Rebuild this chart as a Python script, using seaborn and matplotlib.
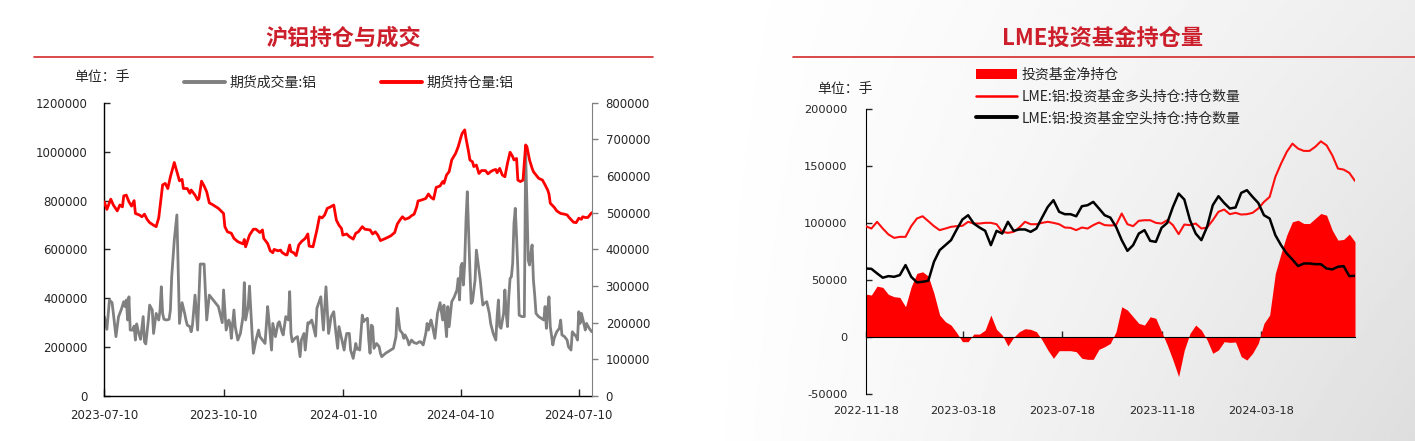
import numpy as np
import pandas as pd
import matplotlib
matplotlib.use("Agg")
import matplotlib.pyplot as plt
import matplotlib.dates as mdates
from matplotlib.lines import Line2D
from matplotlib.patches import Patch
from matplotlib.ticker import StrMethodFormatter
import seaborn as sns

# ---------- left chart: SHFE aluminium, daily (days after 2023-07-10, values in 1000 lots) ----------
left_start = "2023-07-10"

oi_days = [0, 2, 5, 7, 10, 12, 14, 15, 17, 19, 21, 23, 24, 27, 29, 31, 33, 35, 38, 40,
           42, 45, 47, 49, 51, 54, 56, 58, 60, 61, 64, 66, 67, 70, 72, 73, 75, 77, 79, 81,
           84, 88, 92,
           93, 95, 98, 100, 103, 107, 108, 109, 112, 115, 117, 120, 122, 123, 126, 128, 130, 131, 134, 136,
           137, 140, 141, 143, 144, 146, 148, 150, 152, 155, 157, 158, 161, 164, 166, 168, 170, 172, 174, 177,
           179, 181, 183,
           184, 187, 189, 192, 194, 196, 199, 201, 205, 207, 209, 211, 213, 217, 221, 224, 226, 228, 230, 232,
           235, 237, 239, 241, 242, 245, 248, 250, 252, 254, 256, 259, 261, 262, 264, 266, 268, 271, 273, 275,
           276, 278, 279, 281, 282, 284, 285, 287, 289, 291, 294, 296, 298, 300, 302, 303, 305, 307, 309, 311,
           313, 315, 316, 318, 319, 321, 323, 325, 326, 328, 330, 331, 333, 335, 338, 340, 342, 343, 344, 347,
           349, 352, 355, 357, 359, 362, 364, 366, 368, 369, 371, 373, 375, 376]
oi_vals = [530, 509, 537, 521, 505, 521, 516, 546, 548, 530, 518, 533, 498, 494, 489, 496, 482, 473, 466, 462,
           486, 576, 580, 566, 598, 637, 612, 587, 591, 566, 566, 553, 562, 548, 535, 539, 586, 573, 557, 527,
           521, 512, 498,
           462, 448, 444, 430, 421, 415, 427, 407, 439, 455, 455, 446, 453, 430, 416, 396, 391, 400, 396, 398,
           392, 385, 385, 412, 394, 391, 383, 412, 421, 430, 442, 409, 407, 453, 489, 486, 494, 512, 515, 521,
           480, 466, 457,
           439, 442, 435, 428, 444, 448, 462, 455, 453, 442, 448, 439, 424, 430, 437, 446, 469, 480, 489, 482,
           486, 492, 496, 516, 532, 535, 539, 551, 542, 537, 569, 573, 585, 580, 603, 612, 644, 662, 680, 705,
           716, 726, 703, 666, 644, 639, 626, 630, 607, 615, 615, 606, 612, 616, 618, 609, 621, 603, 598, 635,
           665, 653, 644, 648, 589, 585, 589, 685, 680, 644, 621, 612, 603, 594, 589, 576, 562, 551, 526, 515,
           505, 498, 496, 494, 485, 474, 473, 485, 482, 489, 487, 487, 496, 500]

vol_days = [0, 2, 4, 6, 7, 9, 11, 13, 15, 16, 17, 18, 19, 20, 22, 23, 24, 25, 26, 27,
            28, 30, 31, 32, 34, 35, 37, 38, 40, 42, 43, 44, 45, 46, 48, 50, 51, 52, 54, 56,
            58, 60, 62, 63, 64, 66, 67, 68, 70, 72, 73, 74, 77, 79, 81, 84, 88, 91,
            92, 94, 96, 97, 98, 100, 101, 103, 105, 107, 108, 109, 111, 112, 114, 115, 117, 119, 120, 122,
            124, 126, 127, 129, 130, 132, 134, 135, 137, 138, 140, 142, 143, 144, 145, 147, 149, 151, 152, 154,
            155, 157, 158, 160, 161, 163, 164, 167, 168, 169, 171, 173, 175, 177, 178, 180, 181, 183,
            185, 186, 187, 189, 190, 192, 194, 195, 196, 197, 199, 200, 201, 203, 204, 205, 206, 207, 208, 210,
            212, 213, 214, 217, 221, 223, 225, 226, 228, 230, 231, 232, 234, 235, 237, 239, 241, 243, 244, 246,
            248, 249, 250, 252, 253, 255, 257, 259, 261, 262, 264, 265, 266, 268, 270, 272, 273, 274,
            275, 276, 277, 278, 279, 280, 282, 283, 284, 286, 287, 288, 290, 291, 292, 293, 295, 297, 298, 300,
            302, 303, 304, 305, 306, 308, 309, 310, 311, 312, 313, 314, 315, 316, 317, 318, 319, 320, 322, 324,
            325, 326, 327, 328, 329, 330, 331, 332, 333, 335, 337, 339, 340, 341, 342, 343, 344, 346, 347, 349,
            351, 352, 353, 355, 357, 358, 360, 361, 362, 364, 365, 366, 367, 368, 369, 371, 372, 374, 376]
vol_vals = [325, 273, 393, 382, 338, 243, 325, 352, 386, 366, 393, 311, 406, 270, 270, 286, 229, 295, 270, 250,
            232, 325, 222, 213, 311, 372, 352, 256, 338, 311, 352, 447, 338, 314, 311, 314, 352, 488, 638, 741,
            297, 382, 338, 311, 290, 284, 263, 290, 413, 270, 406, 540, 540, 311, 413, 393, 366, 300,
            434, 270, 311, 297, 236, 352, 284, 229, 256, 325, 464, 311, 366, 450, 256, 175, 229, 270, 243, 229,
            215, 366, 311, 188, 297, 243, 297, 304, 263, 250, 325, 311, 427, 256, 222, 236, 243, 161, 229, 256,
            188, 300, 297, 311, 290, 245, 359, 406, 338, 270, 447, 256, 325, 345, 290, 195, 284, 236,
            188, 229, 256, 256, 188, 154, 215, 191, 195, 188, 331, 304, 311, 318, 229, 175, 290, 284, 195, 215,
            202, 175, 161, 175, 188, 195, 243, 359, 270, 256, 236, 250, 229, 209, 229, 218, 215, 222, 222, 209,
            256, 297, 270, 311, 290, 236, 338, 382, 311, 372, 243, 366, 284, 386, 406, 434, 481, 393,
            529, 543, 454, 543, 720, 836, 516, 379, 386, 475, 597, 556, 475, 420, 372, 379, 386, 338, 297, 256,
            229, 325, 393, 284, 277, 338, 434, 338, 284, 406, 481, 488, 543, 706, 768, 652, 516, 331, 325, 325,
            993, 788, 556, 536, 584, 618, 475, 413, 338, 325, 318, 311, 366, 277, 352, 406, 284, 209, 236, 263,
            277, 311, 250, 243, 229, 202, 188, 263, 256, 243, 229, 345, 297, 338, 318, 270, 297, 277, 263]

left_ticks = ["2023-07-10", "2023-10-10", "2024-01-10", "2024-04-10", "2024-07-10"]

# ---------- right chart: LME aluminium investment funds, weekly (values in 1000 lots) ----------
right_start = "2022-11-18"
fund_long = [97.1, 95.0, 100.9, 95.0, 89.8, 86.8, 87.7, 87.7, 97.1, 103.8,
             105.8, 101.5, 97.1, 93.6, 95.0, 96.5, 97.1, 97.4, 100.9, 99.4,
             99.4, 100.0, 100.0, 98.8, 92.1, 91.2, 92.1, 95.9, 100.9, 98.8,
             98.8, 100.0, 100.9, 100.0, 98.8, 95.9, 95.6, 93.6, 95.9, 95.0,
             98.0, 100.3, 98.0, 97.7, 98.0, 108.2, 98.8, 97.1, 101.8, 102.3,
             102.3, 100.0, 99.4, 102.3, 98.0, 90.1, 98.5, 98.0, 99.4, 95.0,
             95.9, 102.3, 109.7, 111.7, 107.6, 108.8, 107.3, 107.6, 108.8, 112.6,
             118.4, 122.8, 140.4, 152.0, 162.3, 169.6, 165.2, 163.2, 163.2, 166.7,
             171.6, 168.1, 159.4, 147.7, 146.8, 143.9, 136.8]
fund_short = [59.9, 59.6, 55.6, 51.8, 53.2, 52.6, 54.1, 62.9, 52.6, 47.7,
              48.2, 49.1, 65.8, 76.0, 80.4, 84.8, 94.2, 102.9, 106.7, 99.4,
              95.9, 93.0, 80.4, 93.0, 90.6, 100.9, 93.0, 94.2, 94.2, 92.1,
              95.0, 104.7, 114.0, 119.9, 109.7, 107.6, 107.6, 105.8, 114.6, 115.5,
              118.4, 112.6, 106.7, 104.6, 96.5, 84.8, 75.4, 80.4, 90.6, 93.6,
              84.2, 83.3, 95.6, 100.0, 114.0, 125.7, 120.5, 102.3, 90.6, 84.8,
              96.5, 115.5, 123.4, 117.5, 112.6, 113.5, 126.3, 128.7, 122.8, 117.5,
              106.7, 103.8, 89.2, 80.4, 73.1, 67.8, 62.0, 64.3, 64.3, 63.7,
              63.7, 59.9, 59.1, 61.4, 62.0, 53.2, 53.5]
fund_net = [37.4, 36.6, 44.4, 43.3, 37.1, 35.1, 34.5, 26.3, 43.9, 55.6,
            57.0, 53.2, 38.0, 19.0, 13.2, 10.2, 3.5, -4.4, -4.4, 2.3,
            2.3, 5.8, 19.0, 6.4, 1.5, -8.2, -0.6, 4.4, 7.0, 6.4,
            4.4, -2.9, -11.7, -19.0, -12.3, -12.3, -12.3, -13.2, -19.0, -19.9,
            -19.9, -11.1, -8.8, -5.9, 4.4, 26.3, 23.4, 17.5, 11.7, 10.2,
            17.5, 16.1, 4.4, -7.3, -20.5, -35.1, -11.7, 2.9, 10.2, 5.8,
            -2.9, -14.6, -11.7, -4.4, -5.0, -4.7, -17.5, -20.5, -14.6, -5.8,
            11.7, 19.0, 55.6, 73.1, 89.2, 100.9, 102.3, 99.4, 99.4, 103.8,
            108.2, 106.7, 93.6, 84.8, 85.4, 90.1, 83.3]
right_ticks = ["2022-11-18", "2023-03-18", "2023-07-18", "2023-11-18", "2024-03-18"]

# ---------- style ----------
sns.set_style("white")
plt.rcParams["font.family"] = ["DejaVu Sans", "Noto Sans CJK SC"]
plt.rcParams["axes.unicode_minus"] = False
CJK = ["Noto Sans CJK SC", "DejaVu Sans"]
TITLE_RED = "#cc1f2b"
RED = "#ff0000"
GREY = "#808080"

fig = plt.figure(figsize=(14.15, 4.41), dpi=100)

# soft grey backdrop behind the right chart (white on its left edge)
bg = fig.add_axes([0.49, 0, 0.51, 1], zorder=-10)
gx = np.linspace(0, 1, 300)
gy = np.linspace(0, 1, 100)
shade = 1 - 0.07 * gx[None, :] ** 1.3 - 0.06 * gy[:, None] * gx[None, :]
bg.imshow(shade, cmap="gray", vmin=0, vmax=1, aspect="auto", extent=[0, 1, 0, 1], origin="upper")
bg.axis("off")

# ---------- left chart ----------
t0 = pd.Timestamp(left_start)
vol_df = pd.DataFrame({"date": t0 + pd.to_timedelta(vol_days, unit="D"),
                       "vol": np.array(vol_vals) * 1000})
oi_df = pd.DataFrame({"date": t0 + pd.to_timedelta(oi_days, unit="D"),
                      "oi": np.array(oi_vals) * 1000})

ax1 = fig.add_axes([0.0737, 0.102, 0.3445, 0.665])
ax1.set_facecolor("none")
sns.lineplot(data=vol_df, x="date", y="vol", ax=ax1, color=GREY, lw=2.0)
ax1.set_ylim(0, 1200000)
ax1.set_yticks(np.arange(0, 1200001, 200000))
ax1.yaxis.set_major_formatter(StrMethodFormatter("{x:.0f}"))

ax2 = ax1.twinx()
sns.lineplot(data=oi_df, x="date", y="oi", ax=ax2, color=RED, lw=2.0)
ax2.set_ylim(0, 800000)
ax2.set_yticks(np.arange(0, 800001, 100000))
ax2.yaxis.set_major_formatter(StrMethodFormatter("{x:.0f}"))

ax1.set_xlim(t0, oi_df["date"].iloc[-1])
ax1.set_xticks(pd.to_datetime(left_ticks))
ax1.xaxis.set_major_formatter(mdates.DateFormatter("%Y-%m-%d"))
for a in (ax1, ax2):
    a.set_xlabel("")
    a.set_ylabel("")
    a.spines["top"].set_visible(False)
ax1.spines["right"].set_visible(False)
ax2.spines["left"].set_visible(False)
ax2.spines["bottom"].set_visible(False)
ax2.spines["right"].set_color(GREY)
for s in ("left", "bottom"):
    ax1.spines[s].set_color("black")
    ax1.spines[s].set_linewidth(1.0)
ax1.tick_params(axis="y", direction="in", length=4, width=1, pad=12, labelsize=8.5, left=True)
ax1.tick_params(axis="x", direction="in", length=5, width=1, pad=9, labelsize=8.5, bottom=True)
ax2.tick_params(axis="y", direction="out", length=4, width=1, color=GREY, pad=6, labelsize=8.5, right=True)

# ---------- right chart ----------
weeks = pd.date_range(right_start, periods=len(fund_net), freq="7D")
fund_df = pd.DataFrame({"date": weeks,
                        "net": np.array(fund_net) * 1000,
                        "long": np.array(fund_long) * 1000,
                        "short": np.array(fund_short) * 1000})

ax3 = fig.add_axes([0.6118, 0.1075, 0.3458, 0.6453])
ax3.set_facecolor("none")
ax3.fill_between(fund_df["date"], fund_df["net"], 0, color=RED, lw=0, zorder=1)
sns.lineplot(data=fund_df, x="date", y="long", ax=ax3, color="#ff1010", lw=1.5, zorder=3)
sns.lineplot(data=fund_df, x="date", y="short", ax=ax3, color="black", lw=1.8, zorder=4)
ax3.set_ylim(-50000, 200000)
ax3.set_yticks(np.arange(-50000, 200001, 50000))
ax3.yaxis.set_major_formatter(StrMethodFormatter("{x:.0f}"))
ax3.set_xlim(weeks[0], weeks[-1])
ax3.set_xticks(pd.to_datetime(right_ticks))
ax3.set_xlabel("")
ax3.set_ylabel("")
ax3.spines["top"].set_visible(False)
ax3.spines["right"].set_visible(False)
ax3.spines["bottom"].set_position(("data", 0))
ax3.spines["bottom"].set_color("black")
ax3.spines["left"].set_color("black")
ax3.tick_params(axis="x", direction="in", length=4, width=1, labelbottom=False, bottom=True)
ax3.tick_params(axis="y", direction="in", length=4, width=1, pad=13, labelsize=8.2, left=True)

# date labels at the bottom edge of the right chart
ax3b = fig.add_axes([0.6118, 0.1075, 0.3458, 0.6453], sharex=ax3)
ax3b.set_facecolor("none")
for s in ax3b.spines.values():
    s.set_visible(False)
ax3b.set_yticks([])
ax3b.xaxis.set_major_formatter(mdates.DateFormatter("%Y-%m-%d"))
ax3b.tick_params(axis="x", length=0, pad=9, labelsize=8.2)

# ---------- titles, rules, units, legends ----------
fig.text(0.2424, 0.9138, "沪铝持仓与成交", family=CJK, fontsize=16, fontweight="bold",
         color=TITLE_RED, ha="center", va="center")
fig.text(0.7795, 0.9138, "LME投资基金持仓量", family=CJK, fontsize=16, fontweight="bold",
         color=TITLE_RED, ha="center", va="center")
fig.add_artist(Line2D([0.0237, 0.4613], [0.8714, 0.8714], transform=fig.transFigure,
                      color="#d42a2a", lw=1.2))
fig.add_artist(Line2D([0.5604, 1.0], [0.870, 0.870], transform=fig.transFigure,
                      color="#d42a2a", lw=1.2))

fig.text(74 / 1415, 1 - 77 / 441, "单位：手", family=CJK, fontsize=10, va="center")
fig.text(817 / 1415, 1 - 89 / 441, "单位：手", family=CJK, fontsize=10, va="center")

left_handles = [Line2D([], [], color=GREY, lw=2.8), Line2D([], [], color=RED, lw=2.8)]
fig.legend(left_handles, ["期货成交量:铝", "期货持仓量:铝"], ncol=2, loc="center left",
           bbox_to_anchor=(184 / 1415, 1 - 83 / 441), frameon=False, prop={"family": CJK, "size": 10},
           handlelength=2.95, handletextpad=0.35, columnspacing=4.6, borderpad=0, borderaxespad=0)

right_handles = [Patch(facecolor=RED, edgecolor="none"),
                 Line2D([], [], color=RED, lw=1.8),
                 Line2D([], [], color="black", lw=2.8)]
fig.legend(right_handles, ["投资基金净持仓", "LME:铝:投资基金多头持仓:持仓数量", "LME:铝:投资基金空头持仓:持仓数量"],
           loc="center left", bbox_to_anchor=(976 / 1415, 1 - 96.5 / 441), frameon=False,
           prop={"family": CJK, "size": 10}, handlelength=2.95, handleheight=0.75,
           handletextpad=0.3, labelspacing=0.55, borderpad=0, borderaxespad=0)

fig.savefig("out.png", dpi=100)
